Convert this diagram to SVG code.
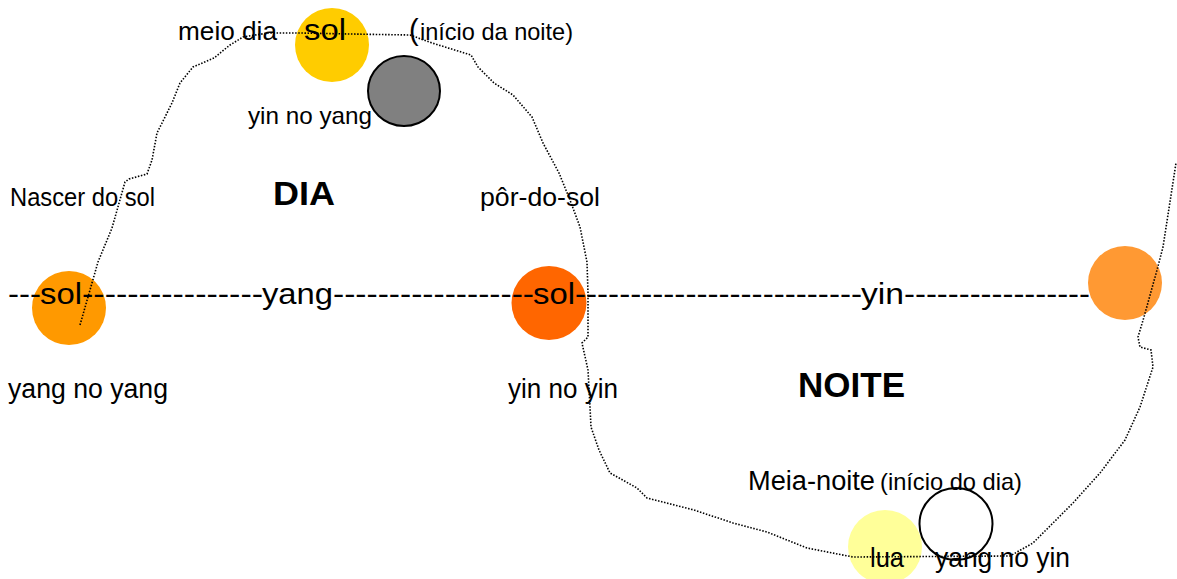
<svg xmlns="http://www.w3.org/2000/svg" width="1177" height="579" viewBox="0 0 1177 579">
<style>
text{font-family:"Liberation Sans",Arial,sans-serif;fill:#000;}
.b{font-weight:bold;}
.cyc{fill:none;stroke:#000;stroke-width:1.6;stroke-dasharray:1.5 1.6;}
.ring{stroke:#000;stroke-width:2;}
.ax{font-size:29px;}
</style>
<rect width="1177" height="579" fill="#fff"/>
<g id="node-sol-nascer"><ellipse cx="69" cy="308" rx="37" ry="37" fill="#FF9900"/></g>
<g id="node-sol-poente"><ellipse cx="549" cy="303" rx="37.5" ry="37" fill="#FF6600"/></g>
<g id="node-sol-direita"><ellipse cx="1125" cy="283" rx="37" ry="37" fill="#FF9933"/></g>
<g id="node-sol-meio-dia"><ellipse cx="332" cy="45" rx="37" ry="37" fill="#FFCC00"/></g>
<g id="node-yin-no-yang"><ellipse cx="404" cy="91" rx="36" ry="35" fill="#808080" class="ring"/></g>
<g id="node-lua"><ellipse cx="885" cy="547" rx="37" ry="37" fill="#FFFF99"/></g>
<g id="node-yang-no-yin"><ellipse cx="956" cy="524" rx="36.5" ry="36" fill="#fff" class="ring"/></g>
<g id="connectors">
<path class="cyc" d="M80,325 L98,262 L112,228 L125,182 L129,179 L147,174 L152,160 L157,133 L172,103 L180,83 L193,67 L214,58 L230,45 L243,37 L268,33 L300,33 L350,34 L410,35 L432,43 L471,55 L478,67 L494,83 L513,95 L532,117 L543,143 L559,173 L570,200 L580,227 L587,262 L588,293 L588,337 L582,343 L588,370 L590,407 L591,427 L599,450 L610,473 L637,488 L647,498 L694,510 L733,523 L767,532 L807,548 L853,557 L1010,556 L1033,543 L1073,503 L1100,473 L1125,440 L1140,407 L1153,367 L1151,350 L1140,347 L1138,337 L1144,317 L1157,270 L1163,247 L1176,163"/>
</g>
<g id="axis-line">
<text class="ax" x="8" y="304" textLength="33" lengthAdjust="spacingAndGlyphs">---</text>
<text class="ax" x="40" y="304" textLength="42" lengthAdjust="spacingAndGlyphs">sol</text>
<text class="ax" x="82" y="304" textLength="181" lengthAdjust="spacingAndGlyphs">----------------</text>
<text class="ax" x="262" y="304" textLength="71" lengthAdjust="spacingAndGlyphs">yang</text>
<text class="ax" x="333" y="304" textLength="201" lengthAdjust="spacingAndGlyphs">------------------</text>
<text class="ax" x="533" y="304" textLength="42" lengthAdjust="spacingAndGlyphs">sol</text>
<text class="ax" x="575" y="304" textLength="287" lengthAdjust="spacingAndGlyphs">--------------------------</text>
<text class="ax" x="861" y="304" textLength="43" lengthAdjust="spacingAndGlyphs">yin</text>
<text class="ax" x="904" y="304" textLength="186" lengthAdjust="spacingAndGlyphs">-----------------</text>
</g>
<g id="labels">
<text x="178" y="40" font-size="26" textLength="99" lengthAdjust="spacingAndGlyphs">meio dia</text>
<text x="304" y="40" font-size="30" textLength="42" lengthAdjust="spacingAndGlyphs">sol</text>
<text x="409" y="40" font-size="29">(</text>
<text x="420" y="40" font-size="24" textLength="153" lengthAdjust="spacingAndGlyphs">início da noite)</text>
<text x="248" y="124" font-size="24" textLength="124" lengthAdjust="spacingAndGlyphs">yin no yang</text>
<text x="10" y="206" font-size="25" textLength="145" lengthAdjust="spacingAndGlyphs">Nascer do sol</text>
<text class="b" x="273" y="205" font-size="33" textLength="62" lengthAdjust="spacingAndGlyphs">DIA</text>
<text x="480" y="206" font-size="25" textLength="120" lengthAdjust="spacingAndGlyphs">pôr-do-sol</text>
<text x="8" y="398" font-size="27" textLength="160" lengthAdjust="spacingAndGlyphs">yang no yang</text>
<text x="508" y="398" font-size="27" textLength="110" lengthAdjust="spacingAndGlyphs">yin no yin</text>
<text class="b" x="798" y="397" font-size="35" textLength="107" lengthAdjust="spacingAndGlyphs">NOITE</text>
<text x="748" y="490" font-size="27" textLength="127" lengthAdjust="spacingAndGlyphs">Meia-noite</text>
<text x="880" y="490" font-size="24" textLength="142" lengthAdjust="spacingAndGlyphs">(início do dia)</text>
<text x="870" y="567" font-size="28" textLength="34" lengthAdjust="spacingAndGlyphs">lua</text>
<text x="935" y="567" font-size="28" textLength="135" lengthAdjust="spacingAndGlyphs">yang no yin</text>
</g>
</svg>
